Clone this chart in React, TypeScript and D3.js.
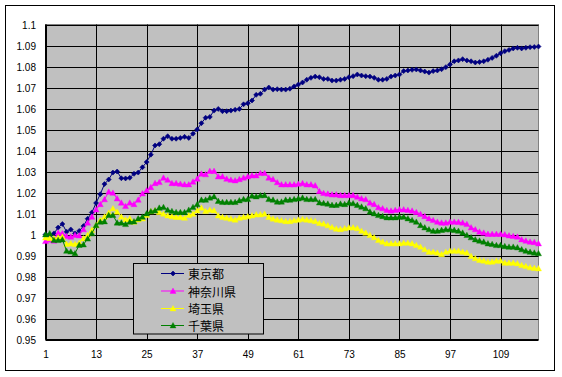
import React from "react";
import * as d3 from "d3";

const seriesNames = ["東京都", "神奈川県", "埼玉県", "千葉県"];
const seriesColors = ["#000080", "#FF00FF", "#FFFF00", "#008000"];

const tokyo = [
  1.0, 0.9995, 1.0005, 1.0033, 1.005, 1.0013, 1.0024, 1.0005, 1.0017, 1.004,
  1.0075, 1.0105, 1.015, 1.0192, 1.024, 1.0262, 1.0295, 1.03, 1.0268, 1.0267,
  1.027, 1.0289, 1.0295, 1.032, 1.0345, 1.038, 1.0424, 1.043, 1.0456, 1.0468,
  1.0456, 1.0456, 1.046, 1.0465, 1.046, 1.048, 1.05, 1.053, 1.0556, 1.056,
  1.059, 1.0598, 1.0587, 1.0587, 1.059, 1.0594, 1.0598, 1.062, 1.0625, 1.0638,
  1.0665, 1.067, 1.069, 1.07, 1.069, 1.0692, 1.069, 1.069, 1.0694, 1.0705,
  1.0714, 1.0724, 1.0737, 1.0746, 1.0752, 1.0749, 1.0741, 1.0741, 1.0733, 1.0733,
  1.0737, 1.0741, 1.0749, 1.0754, 1.0762, 1.0757, 1.0754, 1.0752, 1.0746, 1.0737,
  1.0737, 1.0741, 1.0752, 1.0757, 1.0762, 1.0778, 1.0781, 1.0784, 1.0786, 1.0781,
  1.0776, 1.0771, 1.0778, 1.0781, 1.0787, 1.0797, 1.081, 1.0825, 1.0829, 1.0835,
  1.0829, 1.0825, 1.0819, 1.0821, 1.0825, 1.0832, 1.0841, 1.0851, 1.0863, 1.0873,
  1.0879, 1.0886, 1.0889, 1.0886, 1.0889, 1.0892, 1.0893, 1.0895,
];

const kanagawa = [
  0.9968, 0.9975, 0.997, 1.0008, 1.0005, 0.9992, 0.9989, 0.9997, 0.9995, 1.0024,
  1.0056, 1.0084, 1.0119, 1.0144, 1.0167, 1.0203, 1.0198, 1.0171, 1.0151, 1.0135,
  1.0151, 1.0144, 1.0165, 1.0195, 1.021, 1.0225, 1.0244, 1.0249, 1.027, 1.026,
  1.0244, 1.0244, 1.0241, 1.0238, 1.0238, 1.0251, 1.0265, 1.0289, 1.0286, 1.0302,
  1.0302, 1.0276, 1.0276, 1.0265, 1.026, 1.0257, 1.0263, 1.027, 1.0276, 1.0281,
  1.0281, 1.0292, 1.0292, 1.027, 1.0263, 1.0248, 1.0238, 1.0238, 1.0238, 1.0238,
  1.0241, 1.0244, 1.0238, 1.0238, 1.0233, 1.0206, 1.0197, 1.0194, 1.019, 1.019,
  1.0187, 1.0187, 1.0187, 1.0187, 1.0179, 1.0171, 1.0167, 1.0151, 1.0144, 1.0129,
  1.0124, 1.0116, 1.0113, 1.0116, 1.0119, 1.0119, 1.0116, 1.0113, 1.0106, 1.0097,
  1.0087, 1.0076, 1.0068, 1.006, 1.0056, 1.0056, 1.006, 1.006, 1.0059, 1.0056,
  1.0049, 1.0033, 1.0024, 1.0013, 1.0008, 1.0002, 1.0002, 1.0002, 1.0002, 1.0,
  0.9995, 0.9992, 0.9989, 0.9976, 0.997, 0.9965, 0.9963, 0.9957,
];

const saitama = [
  0.9985, 0.9982, 0.9981, 0.9986, 0.9989, 0.9954, 0.9957, 0.9954, 0.996, 0.9981,
  0.9997, 1.0021, 1.0044, 1.0068, 1.0084, 1.0103, 1.0124, 1.0108, 1.0084, 1.0071,
  1.0076, 1.006, 1.0071, 1.0076, 1.0092, 1.011, 1.0114, 1.0106, 1.0098, 1.009,
  1.0086, 1.0083, 1.0083, 1.0079, 1.0092, 1.0098, 1.0114, 1.0127, 1.0111, 1.0117,
  1.0114, 1.009, 1.0083, 1.0079, 1.0075, 1.007, 1.0079, 1.0083, 1.0086, 1.009,
  1.0095, 1.0095, 1.0098, 1.0083, 1.0075, 1.007, 1.0067, 1.0063, 1.0063, 1.0067,
  1.007, 1.0073, 1.007, 1.0067, 1.0063, 1.0054, 1.0051, 1.0043, 1.0035, 1.0027,
  1.0025, 1.0029, 1.0033, 1.0033, 1.0029, 1.0017, 1.0008, 0.9997, 0.9986, 0.9973,
  0.9965, 0.9957, 0.9957, 0.9957, 0.9957, 0.996, 0.996, 0.9957, 0.9949, 0.9941,
  0.9929, 0.9917, 0.9917, 0.9913, 0.9906, 0.9917, 0.9922, 0.9922, 0.9922, 0.9917,
  0.9913, 0.9897, 0.9886, 0.9878, 0.9875, 0.987, 0.987, 0.9875, 0.9875, 0.9865,
  0.9865, 0.9865, 0.9862, 0.9854, 0.9849, 0.9843, 0.984, 0.9838,
];

const chiba = [
  1.0, 1.0005, 0.9973, 0.9973, 0.9976, 0.9922, 0.9918, 0.991, 0.995, 0.9952,
  0.998, 1.0005, 1.0044, 1.006, 1.0062, 1.0092, 1.0092, 1.0056, 1.0056, 1.0049,
  1.006, 1.0062, 1.0076, 1.0084, 1.01, 1.011, 1.0114, 1.0127, 1.013, 1.0117,
  1.0111, 1.0106, 1.0106, 1.0106, 1.0117, 1.013, 1.0143, 1.0165, 1.0165, 1.0175,
  1.0181, 1.0159, 1.0154, 1.0154, 1.0154, 1.0154, 1.0162, 1.0168, 1.0168, 1.0184,
  1.0181, 1.0186, 1.0187, 1.0168, 1.0165, 1.0156, 1.0156, 1.0165, 1.0165, 1.0168,
  1.0171, 1.0175, 1.0168, 1.0168, 1.0168, 1.0152, 1.0149, 1.0146, 1.014, 1.014,
  1.0146, 1.0144, 1.0151, 1.0148, 1.014, 1.0132, 1.0124, 1.0108, 1.01, 1.0092,
  1.0087, 1.0081, 1.0081, 1.0081, 1.0084, 1.0084, 1.0076, 1.0068, 1.006, 1.0044,
  1.0033, 1.0024, 1.0017, 1.0017, 1.0021, 1.0024, 1.0024, 1.0021, 1.0017, 1.0008,
  0.9997, 0.9986, 0.9976, 0.997, 0.9965, 0.9957, 0.9954, 0.9949, 0.9949, 0.9944,
  0.9941, 0.9941, 0.9938, 0.9929, 0.9922, 0.9917, 0.9913, 0.991,
];

const seriesValues = [tokyo, kanagawa, saitama, chiba];
const xTickLabels = [1, 13, 25, 37, 49, 61, 73, 85, 97, 109];
const yTickValues = [0.95, 0.96, 0.97, 0.98, 0.99, 1.0, 1.01, 1.02, 1.03, 1.04, 1.05, 1.06, 1.07, 1.08, 1.09, 1.1];

const W = 562;
const H = 377;
const plot = { left: 45.5, top: 24.5, right: 538.5, bottom: 339.5 };

function Marker({ kind, cx, cy, color }: { kind: string; cx: number; cy: number; color: string }) {
  if (kind === "diamond") {
    const s = 2.5;
    return (
      <path
        d={`M${cx},${cy - s}L${cx + s},${cy}L${cx},${cy + s}L${cx - s},${cy}Z`}
        fill={color}
        stroke={color}
        strokeWidth={0.6}
      />
    );
  }
  const s = 3;
  return (
    <path
      d={`M${cx},${cy - s}L${cx + s},${cy + s * 0.8}L${cx - s},${cy + s * 0.8}Z`}
      fill={color}
      stroke={color}
      strokeWidth={0.4}
    />
  );
}

export default function App() {
  const n = tokyo.length;
  const x = d3.scaleLinear().domain([1, n]).range([plot.left, plot.right]);
  const y = d3.scaleLinear().domain([0.95, 1.1]).range([plot.bottom, plot.top]);
  const line = d3
    .line<number>()
    .x((_, i) => x(i + 1))
    .y((d) => y(d));
  const fontNum = "'Liberation Sans', Arial, sans-serif";
  const fontJp = "'Noto Sans CJK JP', sans-serif";
  const legend = { x: 133.5, y: 263.5, w: 130, h: 70.5 };
  const rowY = [273.5, 291, 308.5, 325.5];

  return (
    <svg
      width={W}
      height={H}
      style={{ position: "absolute", left: 0, top: 0, display: "block" }}
      xmlns="http://www.w3.org/2000/svg"
    >
      <rect x={0} y={0} width={W} height={H} fill="#FFFFFF" />
      <rect x={5.5} y={5.5} width={549} height={365} fill="#FFFFFF" stroke="#000" strokeWidth={1} />
      <rect
        x={plot.left}
        y={plot.top}
        width={plot.right - plot.left}
        height={plot.bottom - plot.top}
        fill="#C0C0C0"
        stroke="#808080"
        strokeWidth={1}
      />
      {yTickValues.map((v) => (
        <line
          key={"gy" + v}
          x1={plot.left}
          x2={plot.right}
          y1={Math.round(y(v)) + 0.5}
          y2={Math.round(y(v)) + 0.5}
          stroke="#000"
          strokeWidth={1}
        />
      ))}
      {xTickLabels.map((t) => (
        <line
          key={"gx" + t}
          x1={Math.round(x(t)) + 0.5}
          x2={Math.round(x(t)) + 0.5}
          y1={plot.top}
          y2={plot.bottom}
          stroke="#000"
          strokeWidth={1}
        />
      ))}
      <line x1={plot.left} x2={plot.left} y1={plot.top} y2={plot.bottom} stroke="#000" />
      <line x1={plot.left} x2={plot.right} y1={plot.bottom} y2={plot.bottom} stroke="#000" />
      {yTickValues.map((v) => (
        <text
          key={"ty" + v}
          x={36}
          y={Math.round(y(v)) + 0.5}
          textAnchor="end"
          dominantBaseline="central"
          fontFamily={fontNum}
          fontSize={10}
          fill="#000"
        >
          {d3.format("")(Number(v.toFixed(2)))}
        </text>
      ))}
      {xTickLabels.map((t) => (
        <text
          key={"tx" + t}
          x={x(t) + 0.5}
          y={354}
          textAnchor="middle"
          dominantBaseline="central"
          fontFamily={fontNum}
          fontSize={10}
          fill="#000"
        >
          {t}
        </text>
      ))}
      {seriesValues.map((vals, si) => (
        <g key={"s" + si}>
          <path d={line(vals) || ""} fill="none" stroke={seriesColors[si]} strokeWidth={1} />
          {vals.map((v, i) => (
            <Marker
              key={i}
              kind={si === 0 ? "diamond" : "triangle"}
              cx={x(i + 1)}
              cy={y(v)}
              color={seriesColors[si]}
            />
          ))}
        </g>
      ))}
      <rect x={legend.x} y={legend.y} width={legend.w} height={legend.h} fill="#C0C0C0" stroke="#000" strokeWidth={1} />
      {seriesNames.map((name, si) => (
        <g key={"l" + si}>
          <line x1={161} x2={184} y1={rowY[si]} y2={rowY[si]} stroke={seriesColors[si]} strokeWidth={1} />
          <Marker kind={si === 0 ? "diamond" : "triangle"} cx={173} cy={rowY[si]} color={seriesColors[si]} />
          <text
            x={188}
            y={rowY[si]}
            dominantBaseline="central"
            fontFamily={fontJp}
            fontSize={12}
            fill="#000"
          >
            {name}
          </text>
        </g>
      ))}
    </svg>
  );
}
